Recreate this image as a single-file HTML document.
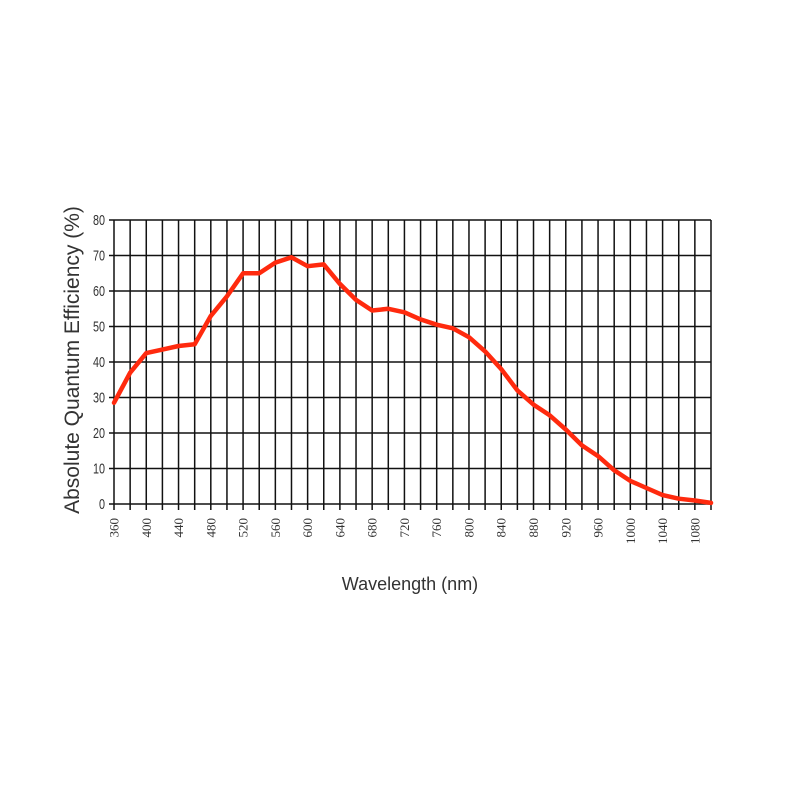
<!DOCTYPE html>
<html><head><meta charset="utf-8"><style>
html,body{margin:0;padding:0;background:#fff;}
</style></head><body>
<svg width="800" height="800" viewBox="0 0 800 800" xmlns="http://www.w3.org/2000/svg">
<rect width="800" height="800" fill="#fff"/>
<path stroke="#111" stroke-width="1.5" fill="none" d="
M114 220V510 M130.14 220V510 M146.27 220V510 M162.41 220V510 M178.54 220V510 M194.68 220V510 M210.81 220V510 M226.95 220V510 M243.08 220V510 M259.22 220V510 M275.35 220V510 M291.49 220V510 M307.62 220V510 M323.76 220V510 M339.89 220V510 M356.03 220V510 M372.16 220V510 M388.3 220V510 M404.43 220V510 M420.57 220V510 M436.7 220V510 M452.84 220V510 M468.97 220V510 M485.11 220V510 M501.24 220V510 M517.38 220V510 M533.51 220V510 M549.65 220V510 M565.78 220V510 M581.92 220V510 M598.05 220V510 M614.19 220V510 M630.32 220V510 M646.46 220V510 M662.59 220V510 M678.73 220V510 M694.86 220V510 M711 220V510
M109 504H711 M109 468.5H711 M109 433H711 M109 397.5H711 M109 362H711 M109 326.5H711 M109 291H711 M109 255.5H711 M109 220H711"/>
<g font-family="Liberation Sans, sans-serif" font-size="15" fill="#333" text-anchor="end">
<text transform="translate(105,509) scale(0.72,1)">0</text>
<text transform="translate(105,473.5) scale(0.72,1)">10</text>
<text transform="translate(105,438) scale(0.72,1)">20</text>
<text transform="translate(105,402.5) scale(0.72,1)">30</text>
<text transform="translate(105,367) scale(0.72,1)">40</text>
<text transform="translate(105,331.5) scale(0.72,1)">50</text>
<text transform="translate(105,296) scale(0.72,1)">60</text>
<text transform="translate(105,260.5) scale(0.72,1)">70</text>
<text transform="translate(105,225) scale(0.72,1)">80</text>
</g>
<g font-family="Liberation Serif, serif" font-size="13" fill="#333" text-anchor="end">
<text transform="translate(118.5,518) rotate(-90)">360</text>
<text transform="translate(150.77,518) rotate(-90)">400</text>
<text transform="translate(183.04,518) rotate(-90)">440</text>
<text transform="translate(215.31,518) rotate(-90)">480</text>
<text transform="translate(247.58,518) rotate(-90)">520</text>
<text transform="translate(279.85,518) rotate(-90)">560</text>
<text transform="translate(312.12,518) rotate(-90)">600</text>
<text transform="translate(344.39,518) rotate(-90)">640</text>
<text transform="translate(376.66,518) rotate(-90)">680</text>
<text transform="translate(408.93,518) rotate(-90)">720</text>
<text transform="translate(441.2,518) rotate(-90)">760</text>
<text transform="translate(473.47,518) rotate(-90)">800</text>
<text transform="translate(505.74,518) rotate(-90)">840</text>
<text transform="translate(538.01,518) rotate(-90)">880</text>
<text transform="translate(570.28,518) rotate(-90)">920</text>
<text transform="translate(602.55,518) rotate(-90)">960</text>
<text transform="translate(634.82,518) rotate(-90)">1000</text>
<text transform="translate(667.09,518) rotate(-90)">1040</text>
<text transform="translate(699.36,518) rotate(-90)">1080</text>
</g>
<polyline fill="none" stroke="#ff2a0e" stroke-width="4.5" stroke-linejoin="round" stroke-linecap="round" points="114,402.8 130.14,372.7 146.27,353.1 162.41,349.6 178.54,346 194.68,344.3 210.81,315.9 226.95,296.3 243.08,273.3 259.22,273.3 275.35,262.6 291.49,257.3 307.62,266.2 323.76,264.4 339.89,283.9 356.03,299.9 372.16,310.5 388.3,308.8 404.43,312.3 420.57,319.4 436.7,324.7 452.84,328.3 468.97,337.2 485.11,351.4 501.24,369.1 517.38,390.4 533.51,404.6 549.65,415.3 565.78,429.5 581.92,445.4 598.05,456.1 614.19,470.3 630.32,480.9 646.46,488 662.59,495.1 678.73,498.7 694.86,500.5 711,502.9"/>
<text x="410" y="590" font-family="Liberation Sans, sans-serif" font-size="18" fill="#333" text-anchor="middle">Wavelength (nm)</text>
<text transform="translate(79,360) rotate(-90)" font-family="Liberation Sans, sans-serif" font-size="21" fill="#333" text-anchor="middle">Absolute Quantum Efficiency (%)</text>
</svg>
</body></html>
